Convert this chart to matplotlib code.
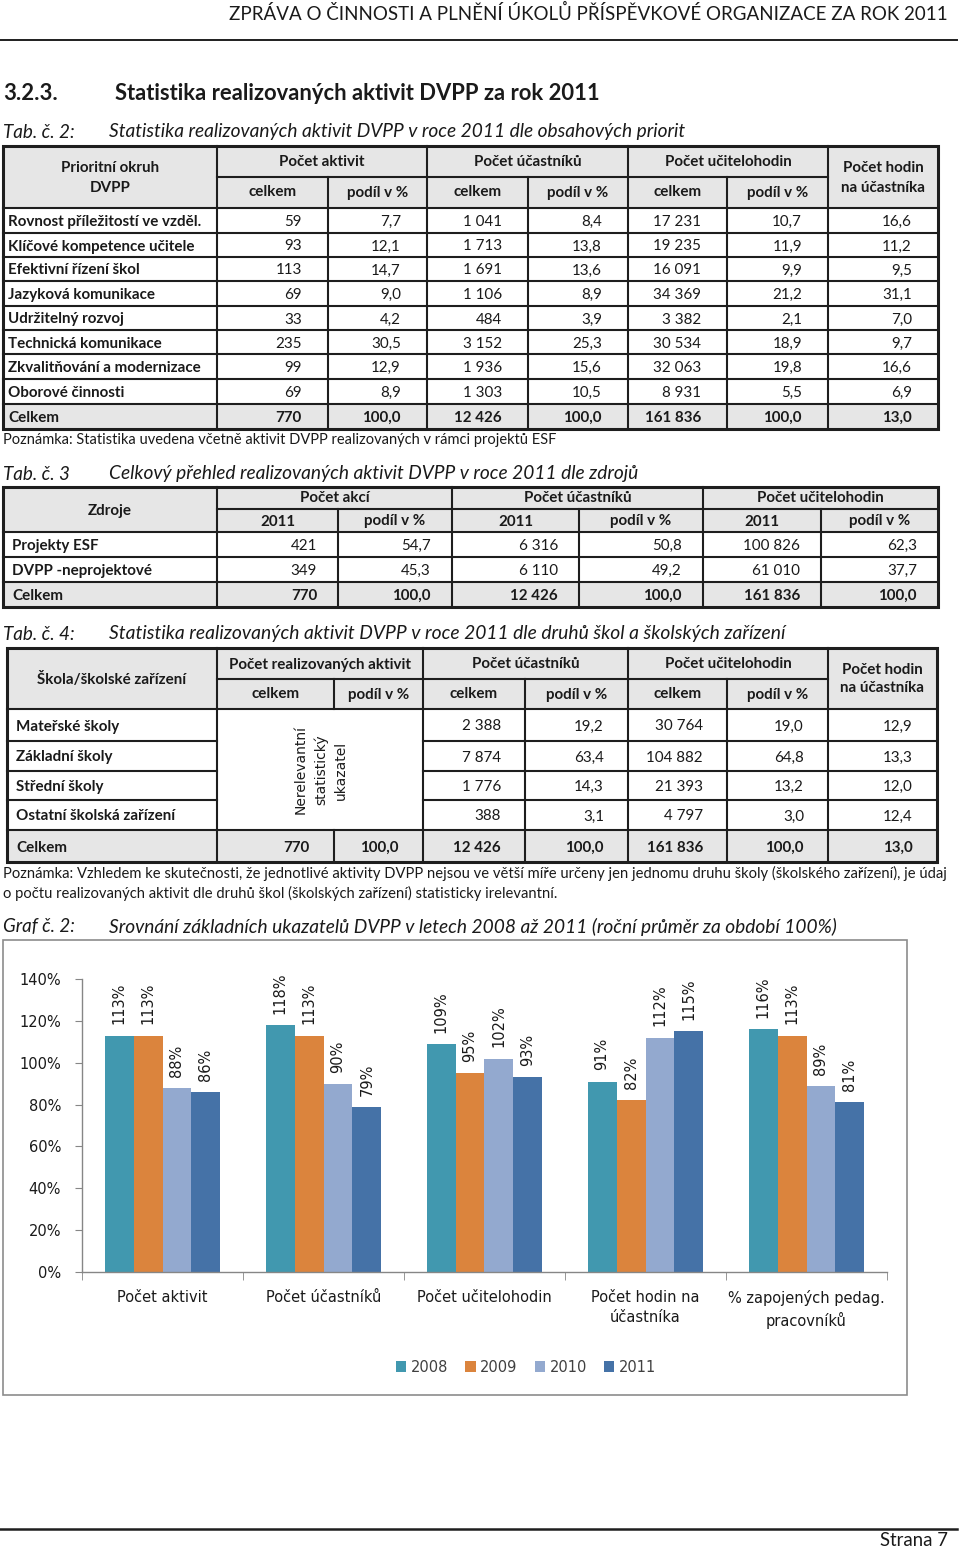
import numpy as np
import matplotlib
matplotlib.use("Agg")
import matplotlib.pyplot as plt
from matplotlib.patches import Rectangle

# ----------------------------------------------------------------------
#   Data
# ----------------------------------------------------------------------

# Tab. c. 2 - priority
prio_labels = ["Rovnost příležitostí ve vzděl.", "Klíčové kompetence učitele", "Efektivní řízení škol",
               "Jazyková komunikace", "Udržitelný rozvoj", "Technická komunikace",
               "Zkvalitňování a modernizace", "Oborové činnosti"]
prio_akt = [59, 93, 113, 69, 33, 235, 99, 69]
prio_akt_pct = [7.7, 12.1, 14.7, 9.0, 4.2, 30.5, 12.9, 8.9]
prio_ucast = [1041, 1713, 1691, 1106, 484, 3152, 1936, 1303]
prio_ucast_pct = [8.4, 13.8, 13.6, 8.9, 3.9, 25.3, 15.6, 10.5]
prio_hod = [17231, 19235, 16091, 34369, 3382, 30534, 32063, 8931]
prio_hod_pct = [10.7, 11.9, 9.9, 21.2, 2.1, 18.9, 19.8, 5.5]
prio_hod_na = [16.6, 11.2, 9.5, 31.1, 7.0, 9.7, 16.6, 6.9]
prio_total = [770, 100.0, 12426, 100.0, 161836, 100.0, 13.0]

# Tab. c. 3 - zdroje
src_labels = ["Projekty ESF", "DVPP -neprojektové"]
src_akce = [421, 349]
src_akce_pct = [54.7, 45.3]
src_ucast = [6316, 6110]
src_ucast_pct = [50.8, 49.2]
src_hod = [100826, 61010]
src_hod_pct = [62.3, 37.7]
src_total = [770, 100.0, 12426, 100.0, 161836, 100.0]

# Tab. c. 4 - druhy skol
sch_labels = ["Mateřské školy", "Základní školy", "Střední školy", "Ostatní školská zařízení"]
sch_ucast = [2388, 7874, 1776, 388]
sch_ucast_pct = [19.2, 63.4, 14.3, 3.1]
sch_hod = [30764, 104882, 21393, 4797]
sch_hod_pct = [19.0, 64.8, 13.2, 3.0]
sch_hod_na = [12.9, 13.3, 12.0, 12.4]
sch_total = [770, 100.0, 12426, 100.0, 161836, 100.0, 13.0]

# Graf c. 2
chart_cats = ["Počet aktivit", "Počet účastníků", "Počet učitelohodin",
              "Počet hodin na\núčastníka", "% zapojených pedag.\npracovníků"]
years = ["2008", "2009", "2010", "2011"]
v2008 = [113, 118, 109, 91, 116]
v2009 = [113, 113, 95, 82, 113]
v2010 = [88, 90, 102, 112, 89]
v2011 = [86, 79, 93, 115, 81]
bar_colors = ["#4198AF", "#DB843D", "#93A9CF", "#4572A7"]

INK = "#1a1a1a"
LINE = "#1e1e1e"
GRAY = "#e6e6e6"
LW = 1.5
LW_OUT = 2.2

plt.rcParams['font.family'] = ['Lato', 'DejaVu Sans']

fig = plt.figure(figsize=(9.6, 15.51), dpi=100)
page = fig.add_axes([0, 0, 1, 1])
page.set_xlim(0, 960)
page.set_ylim(1551, 0)
page.axis('off')
renderer = fig.canvas.get_renderer()


def fit(x, y, s, width, ha='left', **kw):
    # scale font so that the text spans the given pixel width
    t = page.text(x, y, s, ha=ha, va='center', fontsize=10, color=INK, **kw)
    w = t.get_window_extent(renderer).width
    t.set_fontsize(10 * width / w)
    return t


def fmt_int(n):
    return f"{n:,}".replace(",", " ")


def fmt_dec(v):
    return f"{v:.1f}".replace(".", ",")


def fmt(v):
    return fmt_int(v) if isinstance(v, int) else fmt_dec(v)


def hline(y, x0, x1, lw=LW):
    page.plot([x0, x1], [y, y], color=LINE, lw=lw, solid_capstyle='projecting')


def vline(x, y0, y1, lw=LW):
    page.plot([x, x], [y0, y1], color=LINE, lw=lw, solid_capstyle='projecting')


def fill(x0, y0, x1, y1):
    page.add_patch(Rectangle((x0, y0), x1 - x0, y1 - y0, facecolor=GRAY, edgecolor='none', zorder=0))


def frame(x0, y0, x1, y1):
    page.add_patch(Rectangle((x0, y0), x1 - x0, y1 - y0, facecolor='none', edgecolor=LINE,
                             lw=LW_OUT, zorder=3))


probe = fit(100, 100, "Rovnost příležitostí ve vzděl.", 193, weight='bold')
tab_fs = probe.get_fontsize()
probe.remove()


def put(x, y, s, ha='center', bold=False, **kw):
    page.text(x, y + 1.5, s, ha=ha, va='center', fontsize=tab_fs, color=INK,
              weight='bold' if bold else 'normal', **kw)


# ----------------------------------------------------------------------
#   Page header and titles
# ----------------------------------------------------------------------
fit(948, 13, "ZPRÁVA O ČINNOSTI A PLNĚNÍ ÚKOLŮ PŘÍSPĚVKOVÉ ORGANIZACE ZA ROK 2011", 711, ha='right')
hline(40, 0, 957, lw=1.4)

fit(3, 94, "3.2.3.", 54, weight='bold')
fit(115, 94, "Statistika realizovaných aktivit DVPP za rok 2011", 483, weight='bold')

fit(3, 132, "Tab. č. 2:", 72, style='italic')
fit(109, 132, "Statistika realizovaných aktivit DVPP v roce 2011 dle obsahových priorit", 578, style='italic')

# ----------------------------------------------------------------------
#   Tab. c. 2
# ----------------------------------------------------------------------
c = [3, 217, 328, 427, 528, 628, 727, 828, 938]
r = [146, 177, 208, 233, 257, 281, 306, 330, 354, 379, 404, 429]
fill(c[0], r[0], c[-1], r[2])
fill(c[0], r[-2], c[-1], r[-1])
hline(r[1], c[1], c[7])
for y in r[2:-1]:
    hline(y, c[0], c[-1])
for k, x in enumerate(c[1:-1], start=1):
    vline(x, r[0] if k % 2 == 1 else r[1], r[-1])
frame(c[0], r[0], c[-1], r[-1])

put((c[0] + c[1]) / 2, 166, "Prioritní okruh", bold=True)
put((c[0] + c[1]) / 2, 186, "DVPP", bold=True)
for k, name in enumerate(["Počet aktivit", "Počet účastníků", "Počet učitelohodin"]):
    put((c[1 + 2 * k] + c[3 + 2 * k]) / 2, 161, name, bold=True)
    put((c[1 + 2 * k] + c[2 + 2 * k]) / 2, 191, "celkem", bold=True)
    put((c[2 + 2 * k] + c[3 + 2 * k]) / 2, 191, "podíl v %", bold=True)
put((c[7] + c[8]) / 2, 166, "Počet hodin", bold=True)
put((c[7] + c[8]) / 2, 186, "na účastníka", bold=True)

cols = [prio_akt, prio_akt_pct, prio_ucast, prio_ucast_pct, prio_hod, prio_hod_pct, prio_hod_na]
for i, lab in enumerate(prio_labels):
    y = (r[i + 2] + r[i + 3]) / 2
    put(c[0] + 5, y, lab, ha='left', bold=True)
    for j, col in enumerate(cols):
        put(c[j + 2] - 26, y, fmt(col[i]), ha='right')
y = (r[-2] + r[-1]) / 2
put(c[0] + 5, y, "Celkem", ha='left', bold=True)
for j, v in enumerate(prio_total):
    put(c[j + 2] - 26, y, fmt(v), ha='right', bold=True)

fit(3, 440, "Poznámka: Statistika uvedena včetně aktivit DVPP realizovaných v rámci projektů ESF", 551)

# ----------------------------------------------------------------------
#   Tab. c. 3
# ----------------------------------------------------------------------
fit(3, 474, "Tab. č. 3", 67, style='italic')
fit(109, 474, "Celkový přehled realizovaných aktivit DVPP v roce 2011 dle zdrojů", 530, style='italic')

c = [3, 217, 338, 452, 579, 703, 821, 938]
r = [487, 509, 532, 557, 582, 607]
fill(c[0], r[0], c[-1], r[2])
fill(c[0], r[-2], c[-1], r[-1])
hline(r[1], c[1], c[-1])
for y in r[2:-1]:
    hline(y, c[0], c[-1])
for k, x in enumerate(c[1:-1], start=1):
    vline(x, r[0] if k % 2 == 1 else r[1], r[-1])
frame(c[0], r[0], c[-1], r[-1])

put((c[0] + c[1]) / 2, 509, "Zdroje", bold=True)
for k, name in enumerate(["Počet akcí", "Počet účastníků", "Počet učitelohodin"]):
    put((c[1 + 2 * k] + c[3 + 2 * k]) / 2, 497, name, bold=True)
    put((c[1 + 2 * k] + c[2 + 2 * k]) / 2, 520, "2011", bold=True)
    put((c[2 + 2 * k] + c[3 + 2 * k]) / 2, 520, "podíl v %", bold=True)

cols = [src_akce, src_akce_pct, src_ucast, src_ucast_pct, src_hod, src_hod_pct]
for i, lab in enumerate(src_labels):
    y = (r[i + 2] + r[i + 3]) / 2
    put(c[0] + 9, y, lab, ha='left', bold=True)
    for j, col in enumerate(cols):
        put(c[j + 2] - 21, y, fmt(col[i]), ha='right')
y = (r[-2] + r[-1]) / 2
put(c[0] + 9, y, "Celkem", ha='left', bold=True)
for j, v in enumerate(src_total):
    put(c[j + 2] - 21, y, fmt(v), ha='right', bold=True)

# ----------------------------------------------------------------------
#   Tab. c. 4
# ----------------------------------------------------------------------
fit(3, 634, "Tab. č. 4:", 72, style='italic')
fit(109, 634, "Statistika realizovaných aktivit DVPP v roce 2011 dle druhů škol a školských zařízení", 674,
    style='italic')

c = [7, 217, 334, 423, 525, 628, 727, 828, 937]
r = [648, 679, 709, 741, 771, 800, 830, 862]
fill(c[0], r[0], c[-1], r[2])
fill(c[0], r[-2], c[-1], r[-1])
hline(r[1], c[1], c[7])
hline(r[2], c[0], c[-1])
hline(r[-2], c[0], c[-1])
for y in r[3:-2]:
    hline(y, c[0], c[1])
    hline(y, c[3], c[-1])
for k, x in enumerate(c[1:-1], start=1):
    if k == 2:
        vline(x, r[1], r[2])
        vline(x, r[-2], r[-1])
    else:
        vline(x, r[0] if k % 2 == 1 else r[1], r[-1])
frame(c[0], r[0], c[-1], r[-1])

put((c[0] + c[1]) / 2, 678, "Škola/školské zařízení", bold=True)
for k, name in enumerate(["Počet realizovaných aktivit", "Počet účastníků", "Počet učitelohodin"]):
    put((c[1 + 2 * k] + c[3 + 2 * k]) / 2, 663, name, bold=True)
    put((c[1 + 2 * k] + c[2 + 2 * k]) / 2, 693, "celkem", bold=True)
    put((c[2 + 2 * k] + c[3 + 2 * k]) / 2, 693, "podíl v %", bold=True)
put((c[7] + c[8]) / 2, 668, "Počet hodin", bold=True)
put((c[7] + c[8]) / 2, 687, "na účastníka", bold=True)

page.text((c[1] + c[3]) / 2 + 1, 770, "Nerelevantní\nstatistický\nukazatel", rotation=90, ha='center',
          va='center', multialignment='center', fontsize=10, family='DejaVu Sans', color=INK,
          linespacing=1.5)

cols = [sch_ucast, sch_ucast_pct, sch_hod, sch_hod_pct, sch_hod_na]
for i, lab in enumerate(sch_labels):
    y = (r[i + 2] + r[i + 3]) / 2
    put(c[0] + 9, y, lab, ha='left', bold=True)
    for j, col in enumerate(cols):
        put(c[j + 4] - 24, y, fmt(col[i]), ha='right')
y = (r[-2] + r[-1]) / 2
put(c[0] + 9, y, "Celkem", ha='left', bold=True)
for j, v in enumerate(sch_total):
    put(c[j + 2] - 24, y, fmt(v), ha='right', bold=True)

fit(3, 873, "Poznámka: Vzhledem ke skutečnosti, že jednotlivé aktivity DVPP nejsou ve větší míře určeny "
            "jen jednomu druhu školy (školského zařízení), je údaj", 945)
fit(3, 893, "o počtu realizovaných aktivit dle druhů škol (školských zařízení) statisticky irelevantní.", 554)

# ----------------------------------------------------------------------
#   Graf c. 2
# ----------------------------------------------------------------------
fit(3, 927, "Graf č. 2:", 72, style='italic')
fit(109, 927, "Srovnání základních ukazatelů DVPP v letech 2008 až 2011 (roční průměr za období 100%)", 727,
    style='italic')

page.add_patch(Rectangle((3, 940), 904, 455, facecolor='white', edgecolor='#8c8c8c', lw=1.2))

AX = '#868686'
ch = fig.add_axes([82 / 960, 1 - 1272 / 1551, 805 / 960, 293 / 1551])
ch.patch.set_alpha(0)
cx = np.arange(len(chart_cats))
bw = 0.18
for i, (yr, vals) in enumerate(zip(years, [v2008, v2009, v2010, v2011])):
    bars = ch.bar(cx + (i - 1.5) * bw, vals, bw, color=bar_colors[i], label=yr)
    for b, v in zip(bars, vals):
        ch.annotate(f"{v}%", (b.get_x() + bw / 2, v), xytext=(0, 8), textcoords='offset points',
                    rotation=90, ha='center', va='bottom', fontsize=10.5, family='DejaVu Sans', color=INK)

ch.set_xlim(-0.5, 4.5)
ch.set_ylim(0, 140)
ch.set_yticks(range(0, 141, 20))
ch.set_yticklabels([f"{v}%" for v in range(0, 141, 20)], family='DejaVu Sans', fontsize=10.5)
ch.set_xticks(cx)
ch.set_xticklabels(chart_cats, family='DejaVu Sans', fontsize=10.5)
for t in ch.get_xticklabels():
    t.set_linespacing(1.45)
ch.set_xticks(np.arange(-0.5, 5, 1), minor=True)
ch.tick_params(axis='x', which='major', length=0, pad=13, colors=INK)
ch.tick_params(axis='x', which='minor', length=6, color=AX, direction='out')
ch.tick_params(axis='y', length=5, color=AX, pad=10, labelcolor=INK)
for s in ['top', 'right']:
    ch.spines[s].set_visible(False)
for s in ['left', 'bottom']:
    ch.spines[s].set_color(AX)
    ch.spines[s].set_linewidth(1.0)

fig.legend(loc='center', bbox_to_anchor=(526 / 960, 1 - 1367 / 1551), ncol=4, frameon=False,
           handlelength=0.7, handleheight=0.7, handletextpad=0.3, columnspacing=1.2,
           prop={'family': 'DejaVu Sans', 'size': 10.5}, labelcolor='#404040')

# ----------------------------------------------------------------------
#   Footer
# ----------------------------------------------------------------------
hline(1529, 0, 957, lw=1.8)
fit(948, 1541, "Strana 7", 68, ha='right')

fig.savefig("out.png", dpi=100)
